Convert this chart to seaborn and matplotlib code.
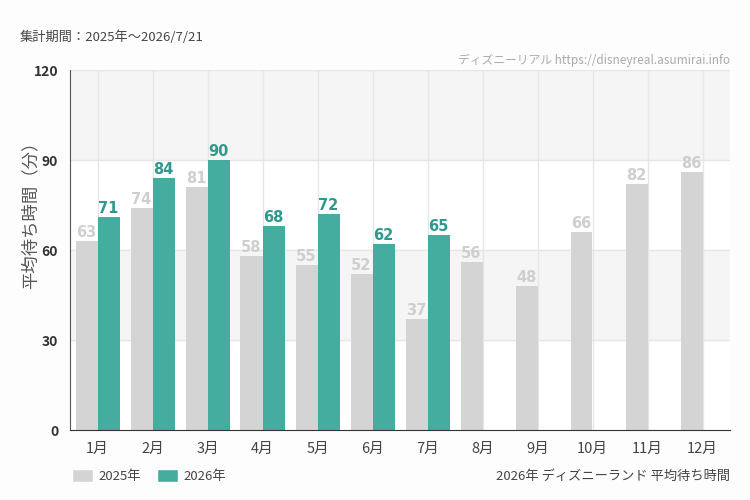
import matplotlib.pyplot as plt
import seaborn as sns
import pandas as pd
import numpy as np
from matplotlib.patches import Patch

months = ['1月', '2月', '3月', '4月', '5月', '6月', '7月', '8月', '9月', '10月', '11月', '12月']
wait_2025 = [63, 74, 81, 58, 55, 52, 37, 56, 48, 66, 82, 86]
wait_2026 = [71, 84, 90, 68, 72, 62, 65, None, None, None, None, None]
years = ['2025年', '2026年']
colors = ['#d4d4d4', '#44ada0']
label_colors = ['#cfcfcf', '#2e9a8c']

sns.set_style('white')
plt.rcParams['font.family'] = ['Noto Sans CJK JP', 'DejaVu Sans']

df = pd.DataFrame({
    'month': months * 2,
    'year': [years[0]] * 12 + [years[1]] * 12,
    'wait': wait_2025 + wait_2026,
})

fig = plt.figure(figsize=(7.5, 5), dpi=100, facecolor='#fcfdfc')
ax = fig.add_axes([70 / 750, 70 / 500, 660 / 750, 360 / 500])
ax.set_facecolor('white')

# 背景の帯
for lo, hi in [(30, 60), (90, 120)]:
    ax.axhspan(lo, hi, color='#f5f5f5', zorder=0)
for y in [30, 60, 90, 120]:
    ax.axhline(y, color='#e6e6e6', lw=1, zorder=0.5)
for i in range(len(months)):
    ax.axvline(i, color='#e6e6e6', lw=1, zorder=0.5)

sns.barplot(data=df, x='month', y='wait', hue='year', palette=colors,
            width=0.8, saturation=1, linewidth=0, ax=ax, legend=False, zorder=2)

for container, lc in zip(ax.containers, label_colors):
    labels = ['' if np.isnan(v) else f'{int(v)}' for v in container.datavalues]
    ax.bar_label(container, labels=labels, padding=1, color=lc, fontsize=10.5,
                 fontweight='bold', family='DejaVu Sans')

ax.set_ylim(0, 120)
ax.set_xlim(-0.5, 11.5)
ax.set_yticks([0, 30, 60, 90, 120])
ax.tick_params(axis='y', length=5, color='#333333', labelsize=10, labelcolor='#333333')
ax.tick_params(axis='x', length=5, color='#333333', labelsize=10.5, labelcolor='#444444')
for lbl in ax.get_yticklabels():
    lbl.set_fontweight('bold')
ax.set_xlabel('')
ax.set_ylabel('平均待ち時間（分）', fontsize=12.5, color='#555555')
ax.yaxis.set_label_coords(-0.047, 0.61)
for side in ['top', 'right']:
    ax.spines[side].set_visible(False)
ax.spines['left'].set_color('#555555')
ax.spines['bottom'].set_color('#333333')

fig.text(20 / 750, 1 - 37 / 500, '集計期間：2025年～2026/7/21', fontsize=9.5,
         color='#444444', va='center')
fig.text(730 / 750, 1 - 60 / 500, 'ディズニーリアル https://disneyreal.asumirai.info',
         fontsize=8.5, color='#aaaaaa', ha='right', va='center')
fig.text(730 / 750, 1 - 476 / 500, '2026年 ディズニーランド 平均待ち時間',
         fontsize=9.5, color='#444444', ha='right', va='center')

# 凡例
handles = [Patch(facecolor=c, label=y) for c, y in zip(colors, years)]
fig.legend(handles=handles, loc='center left', bbox_to_anchor=(60 / 750, 1 - 476 / 500),
           ncol=2, frameon=False, fontsize=9.5, handlelength=1.6, handleheight=1.1,
           columnspacing=1.2, handletextpad=0.4, labelcolor='#444444')

fig.savefig('out.png', dpi=100, facecolor=fig.get_facecolor())
